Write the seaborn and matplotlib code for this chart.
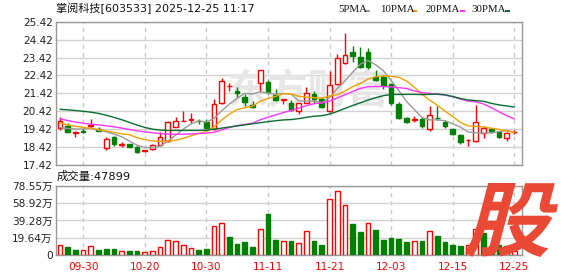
import numpy as np
import pandas as pd
import matplotlib
matplotlib.use("Agg")
import matplotlib.pyplot as plt
import seaborn as sns
from matplotlib.patches import Rectangle, PathPatch
from matplotlib.textpath import TextPath
from matplotlib.font_manager import FontProperties
from matplotlib import transforms

# ---------------- data ----------------
title = "掌阅科技[603533] 2025-12-25 11:17"
vol_title = "成交量:47899"

dates = ["09-25", "09-26", "09-29", "09-30", "10-09", "10-10", "10-13", "10-14", "10-15", "10-16",
         "10-17", "10-20", "10-21", "10-22", "10-23", "10-24", "10-27", "10-28", "10-29", "10-30",
         "10-31", "11-03", "11-04", "11-05", "11-06", "11-07", "11-10", "11-11", "11-12", "11-13",
         "11-14", "11-17", "11-18", "11-19", "11-20", "11-21", "11-24", "11-25", "11-26", "11-27",
         "11-28", "12-01", "12-02", "12-03", "12-04", "12-05", "12-08", "12-09", "12-10", "12-11",
         "12-12", "12-15", "12-16", "12-17", "12-18", "12-19", "12-22", "12-23", "12-24", "12-25"]

open_ = [19.47, 19.61, 19.22, 19.30, 19.62, 19.43, 18.38, 18.97, 18.55, 18.59,
         18.41, 18.21, 18.30, 18.54, 18.76, 19.56, 19.88, 19.95, 19.87, 19.80,
         19.41, 20.86, 21.82, 21.57, 21.23, 20.77, 21.98, 22.04, 21.31, 21.07,
         20.90, 20.43, 20.90, 21.38, 21.10, 20.43, 21.92, 23.09, 23.73, 23.43,
         23.71, 22.35, 22.32, 21.94, 20.82, 20.06, 19.96, 19.97, 19.43, 20.07,
         19.84, 19.43, 19.09, 18.81, 18.78, 19.22, 19.43, 19.24, 18.91, 19.25]
high = [20.08, 19.75, 19.30, 19.47, 19.97, 19.56, 18.97, 19.04, 18.72, 18.62,
        18.50, 18.26, 18.58, 19.28, 19.87, 20.12, 20.45, 20.30, 19.99, 20.00,
        21.10, 22.28, 22.01, 21.76, 21.38, 20.99, 22.74, 22.15, 21.65, 21.12,
        21.05, 20.88, 21.76, 21.55, 21.20, 22.68, 23.63, 24.81, 24.06, 23.99,
        23.93, 22.72, 22.44, 21.98, 20.95, 20.12, 20.15, 20.12, 20.71, 20.73,
        19.93, 19.45, 19.15, 18.85, 20.77, 19.60, 19.47, 19.33, 19.28, 19.37]
low = [19.37, 19.25, 18.98, 19.22, 19.47, 19.30, 18.26, 18.50, 18.41, 18.40,
       18.11, 18.14, 18.24, 18.48, 18.72, 19.55, 19.86, 19.75, 19.69, 19.47,
       19.37, 20.84, 21.55, 21.23, 20.71, 20.61, 21.49, 21.38, 20.98, 20.81,
       20.45, 20.27, 20.86, 20.86, 20.62, 20.40, 21.90, 23.07, 23.19, 22.85,
       22.78, 22.13, 21.65, 20.77, 19.97, 19.75, 19.84, 19.50, 19.33, 19.93,
       19.47, 19.11, 18.59, 18.50, 18.69, 18.94, 19.19, 18.91, 18.76, 19.15]
close = [19.87, 19.29, 19.26, 19.27, 19.67, 19.32, 18.87, 18.57, 18.58, 18.44,
         18.16, 18.24, 18.52, 18.97, 19.82, 19.87, 19.90, 19.98, 19.85, 19.50,
         20.82, 22.09, 21.85, 21.42, 20.92, 20.64, 22.72, 21.51, 21.05, 21.10,
         20.49, 20.86, 21.42, 21.09, 20.64, 21.87, 23.38, 23.56, 23.52, 22.91,
         22.91, 22.17, 21.89, 20.86, 20.06, 19.84, 19.98, 19.61, 20.21, 20.05,
         19.61, 19.13, 18.69, 18.84, 19.82, 19.50, 19.28, 18.97, 19.20, 19.27]
volume = [11.3, 9.3, 6.0, 5.6, 10.1, 6.0, 7.1, 7.1, 4.5, 4.8,
          4.8, 3.4, 4.5, 9.0, 16.9, 15.8, 11.3, 7.9, 6.0, 7.1,
          32.7, 36.1, 20.6, 12.7, 15.0, 9.3, 29.3, 46.5, 17.2, 15.8,
          16.1, 13.5, 27.0, 16.1, 11.6, 63.1, 72.1, 56.7, 35.3, 26.2,
          36.4, 28.5, 17.2, 19.5, 18.4, 15.0, 15.8, 16.1, 27.0, 21.7,
          15.0, 11.6, 10.5, 12.0, 30.0, 25.5, 10.0, 12.0, 10.5, 4.79]  # 万

# moving-average values for the days whose window starts before the visible range
ma5_head = [19.50, 19.46, 19.43, 19.43]
ma10_head = [19.77, 19.66, 19.58, 19.52, 19.46, 19.40, 19.32, 19.24, 19.16]
ma20_head = [20.00, 19.90, 19.82, 19.75, 19.70, 19.66, 19.61, 19.55, 19.48, 19.40,
             19.33, 19.27, 19.22, 19.18, 19.15, 19.14, 19.14, 19.16, 19.18]
ma30_head = [20.53, 20.50, 20.46, 20.42, 20.37, 20.30, 20.20, 20.08, 19.95, 19.80,
             19.65, 19.52, 19.42, 19.37, 19.35, 19.35, 19.35, 19.35, 19.35, 19.36,
             19.42, 19.48, 19.54, 19.60, 19.66, 19.72, 19.78, 19.84, 19.89]

ma_names = ["5PMA", "10PMA", "20PMA", "30PMA"]
ma_windows = [5, 10, 20, 30]
ma_heads = [ma5_head, ma10_head, ma20_head, ma30_head]
ma_colors = ["#9a9a9a", "#f0a000", "#ff33ff", "#0a6e32"]

tick_labels = ["09-30", "10-20", "10-30", "11-11", "11-21", "12-03", "12-15", "12-25"]
price_ticks = [17.42, 18.42, 19.42, 20.42, 21.42, 22.42, 23.42, 24.42, 25.42]
vol_ticks = [0, 19.64, 39.28, 58.92, 78.55]
vol_tick_labels = ["0", "19.64万", "39.28万", "58.92万", "78.55万"]

RED = "#ff0000"
GREEN = "#008000"

# ---------------- figure ----------------
sns.set_theme(style="white")
plt.rcParams['font.family'] = ['DejaVu Sans', 'Noto Sans CJK SC']

W, H = 578, 276
fig = plt.figure(figsize=(W / 100, H / 100), dpi=100)
fig.patch.set_facecolor("white")


def fx(px):
    return px / W


def fy(py):
    return 1 - py / H


L, R = 56, 522
P_TOP, P_BOT = 21.7, 165.0
V_TOP, V_BOT = 185.7, 255.3
ax = fig.add_axes([fx(L), fy(P_BOT), (R - L) / W, (P_BOT - P_TOP) / H])
axv = fig.add_axes([fx(L), fy(V_BOT), (R - L) / W, (V_BOT - V_TOP) / H])

idx = np.arange(len(dates))
o = np.array(open_)
c = np.array(close)
hi = np.array(high)
lo = np.array(low)
up = c >= o
col = np.where(up, RED, GREEN)

cs = pd.Series(close)
ma_frames = []
for name, n, head in zip(ma_names, ma_windows, ma_heads):
    m = cs.rolling(n).mean().to_numpy()
    m[:len(head)] = head
    ma_frames.append(pd.DataFrame({"idx": idx, "value": m, "ma": name}))
ma_df = pd.concat(ma_frames, ignore_index=True)

tick_idx = [dates.index(t) for t in tick_labels]
xmin = -0.52
xmax = xmin + (R - L) / 7.7

for a in (ax, axv):
    a.set_facecolor("white")
    a.set_xlim(xmin, xmax)
    a.set_xticks(tick_idx)
    a.xaxis.grid(True, color="#c8c8c8", lw=1, ls=(0, (3, 3)))
    a.yaxis.grid(True, color="#d2d2d2", lw=1)
    a.set_axisbelow(True)
    for s in a.spines.values():
        s.set_color("#999999")
        s.set_linewidth(1)
        s.set_visible(True)
    a.tick_params(length=0)
    a.set_xlabel("")
    a.set_ylabel("")

# watermark
ax.text(fx(308), fy(92), "东方财富", transform=fig.transFigure, ha="center", va="center",
        fontsize=29, color="#e6e6e6", family=["Noto Sans CJK SC"], fontweight="bold", zorder=0.6)

# candles
body_lo = np.minimum(o, c)
body_hi = np.maximum(o, c)
body_h = np.maximum(body_hi - body_lo, 0.012)
ax.vlines(idx, lo, body_lo, colors=col, lw=1, zorder=2)
ax.vlines(idx, body_hi, hi, colors=col, lw=1, zorder=2)
ax.bar(idx, body_h, bottom=body_lo, width=0.62, color=np.where(up, "white", GREEN),
       edgecolor=col, linewidth=1, zorder=3)

sns.lineplot(data=ma_df, x="idx", y="value", hue="ma", palette=dict(zip(ma_names, ma_colors)),
             linewidth=1, legend=False, ax=ax, zorder=4)

ax.set_ylim(price_ticks[0], price_ticks[-1])
ax.set_yticks(price_ticks)
ax.set_yticklabels([f"{t:.2f}" for t in price_ticks], fontsize=7.6, color="#222222")
ax.tick_params(axis="y", pad=2.4)
ax.tick_params(axis="x", labelbottom=False)
ax.set_xlabel("")
ax.set_ylabel("")

# volume
vol_up = np.r_[True, np.diff(c) >= 0]
vcol = np.where(vol_up, RED, GREEN)
axv.bar(idx, volume, width=0.62, color=np.where(vol_up, "white", GREEN), edgecolor=vcol,
        linewidth=1, zorder=3)
axv.set_ylim(0, vol_ticks[-1])
axv.set_yticks(vol_ticks)
axv.set_yticklabels(vol_tick_labels, fontsize=7.6, color="#222222")
axv.set_xticklabels(tick_labels, fontsize=7.6, color=RED)
axv.tick_params(axis="y", pad=2.4)
axv.tick_params(axis="x", pad=5)

# titles
fig.text(fx(56), fy(8.5), title, fontsize=8.0, color="#111111", va="center", ha="left")
fig.text(fx(57), fy(176.7), vol_title, fontsize=8.2, color="#111111", va="center", ha="left")

# legend
leg_text_x = [338.5, 379.7, 425.7, 471.7]
leg_mark_x = [365.3, 412.3, 459.7, 505.3]
for name, tx, mx, cc in zip(ma_names, leg_text_x, leg_mark_x, ma_colors):
    fig.text(fx(tx), fy(9), name, fontsize=7.8, color="#111111", va="center", ha="left",
             family=["Liberation Serif"])
    fig.add_artist(Rectangle((fx(mx), fy(12)), 5 / W, 2.2 / H, transform=fig.transFigure,
                             facecolor=cc, edgecolor="none"))

# "股" badge
fp = FontProperties(family="Noto Sans CJK SC", weight="bold")
tp = TextPath((0, 0), "股", size=100, prop=fp)
sk = transforms.Affine2D().skew_deg(14, 0)
p = sk.transform_path(tp)
ext = p.get_extents()
x0, x1, y0, y1 = 465, 558, H - 257, H - 183
fit = (transforms.Affine2D().translate(-ext.x0, -ext.y0)
       .scale((x1 - x0) / ext.width, (y1 - y0) / ext.height).translate(x0, y0))
p2 = fit.transform_path(p)
fig.add_artist(PathPatch(p2, transform=transforms.IdentityTransform(),
                         facecolor="#ea4a35", edgecolor="none", zorder=10))

fig.savefig("out.png", dpi=100, facecolor="white")
